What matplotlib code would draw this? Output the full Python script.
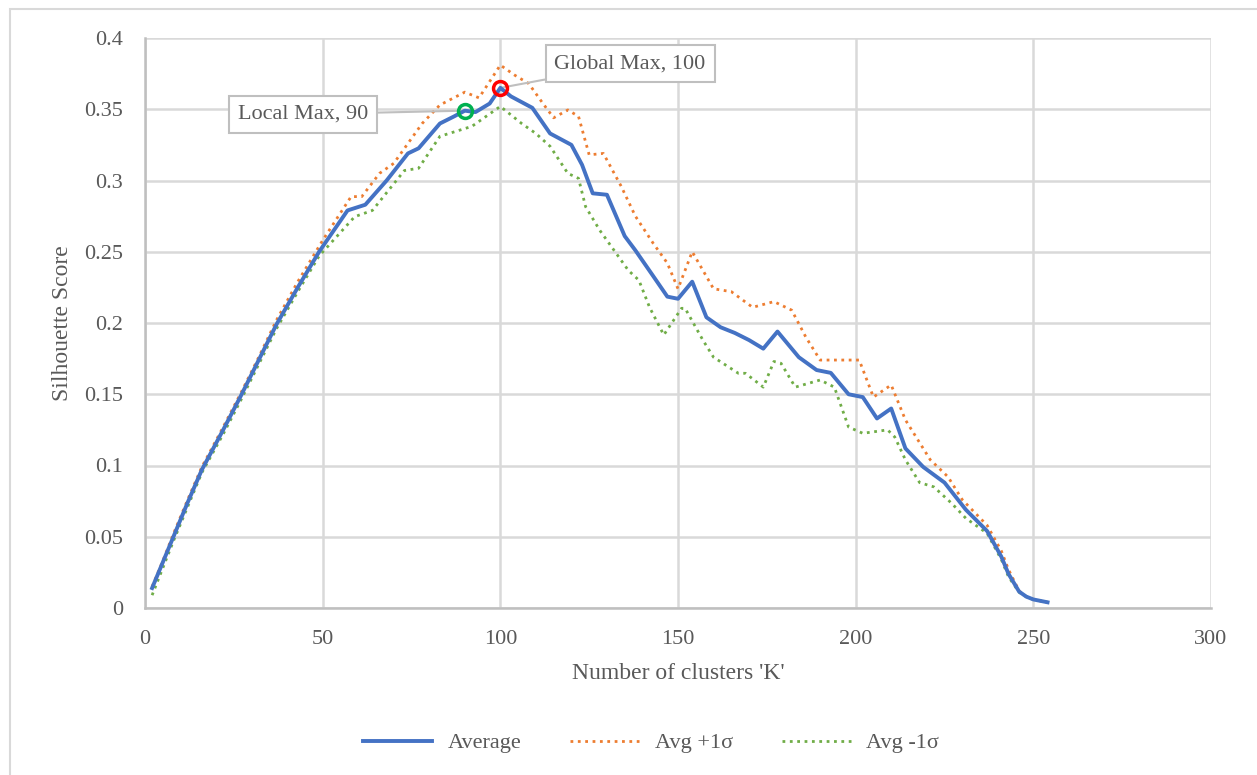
import matplotlib.pyplot as plt
from matplotlib.patches import Rectangle

plt.rcParams['font.family'] = ['Liberation Serif', 'DejaVu Serif']

# data
k_avg = [2, 5, 8, 12, 16, 22, 27, 32, 37, 43, 49, 57, 62, 68, 74, 77, 83, 87, 90, 93,
         97, 100, 103, 109, 114, 120, 123, 126, 130, 135, 138, 143, 147, 150, 154, 158,
         162, 166, 170, 174, 178, 184, 189, 193, 198, 202, 206, 210, 214, 219, 225,
         231, 237, 241, 243, 246, 248, 250, 254]
avg = [0.014, 0.032, 0.05, 0.074, 0.097, 0.125, 0.149, 0.174, 0.199, 0.225, 0.25,
       0.279, 0.283, 0.300, 0.319, 0.3226, 0.340, 0.345, 0.349, 0.348, 0.354, 0.365,
       0.359, 0.351, 0.333, 0.325, 0.311, 0.291, 0.290, 0.261, 0.251, 0.233, 0.2185,
       0.217, 0.229, 0.204, 0.197, 0.193, 0.188, 0.182, 0.194, 0.176, 0.167, 0.165,
       0.150, 0.148, 0.133, 0.140, 0.112, 0.099, 0.088, 0.069, 0.054, 0.036, 0.024,
       0.0115, 0.008, 0.006, 0.004]

k_hi = [2, 5, 8, 12, 16, 22, 27, 32, 37, 43, 50, 58, 61, 66, 70, 78, 83, 90, 94, 100,
        104, 108, 112, 115, 119, 122, 125, 129, 134, 138, 143, 147, 150, 154, 160, 165,
        171, 177, 182, 186, 190, 201, 205, 210, 214, 221, 226, 230, 237, 241, 243, 246,
        248, 250, 254]
hi = [0.015, 0.033, 0.052, 0.076, 0.099, 0.127, 0.151, 0.176, 0.202, 0.229, 0.258,
      0.2887, 0.2887, 0.305, 0.312, 0.340, 0.353, 0.362, 0.358, 0.381, 0.374, 0.368,
      0.354, 0.344, 0.3495, 0.345, 0.318, 0.319, 0.296, 0.275, 0.256, 0.242, 0.224,
      0.250, 0.224, 0.222, 0.211, 0.215, 0.209, 0.190, 0.174, 0.174, 0.148, 0.1565,
      0.132, 0.104, 0.092, 0.076, 0.058, 0.040, 0.027, 0.012, 0.008, 0.006, 0.004]

k_lo = [2, 5, 8, 12, 16, 22, 27, 32, 37, 43, 49, 59, 64, 73, 77, 83, 92, 100, 106, 110,
        114, 119, 122, 124, 128, 132, 136, 139, 142, 146, 151, 152, 157, 160, 167, 169,
        174, 177, 179, 183, 190, 194, 198, 202, 209, 211, 214, 218, 222, 227, 231, 237,
        241, 243, 246, 248, 250, 254]
lo = [0.009, 0.028, 0.047, 0.071, 0.095, 0.122, 0.146, 0.171, 0.196, 0.222, 0.247,
      0.2746, 0.279, 0.307, 0.3086, 0.331, 0.338, 0.352, 0.340, 0.333, 0.324, 0.305,
      0.3015, 0.2816, 0.265, 0.251, 0.237, 0.230, 0.211, 0.1916, 0.2103, 0.2103,
      0.188, 0.176, 0.1647, 0.1647, 0.155, 0.173, 0.1717, 0.155, 0.160, 0.155, 0.127,
      0.1226, 0.125, 0.120, 0.104, 0.088, 0.085, 0.0735, 0.063, 0.0524, 0.034, 0.022,
      0.011, 0.008, 0.006, 0.004]

local_max = (90, 0.349)
global_max = (100, 0.365)

grey = '#595959'
fig = plt.figure(figsize=(12.57, 7.75), dpi=100)
fig.patches.append(Rectangle((10 / 1257, -0.01), 1.1, 1 - 9 / 775 + 0.01,
                             transform=fig.transFigure, fill=False,
                             edgecolor='#d9d9d9', lw=1.5))
ax = fig.add_axes([145 / 1257, 1 - 608 / 775, (1211 - 145) / 1257, (608 - 38) / 775])

ax.plot(k_avg, avg, color='#4472c4', lw=2.8, label='Average', zorder=4,
        solid_joinstyle='round')
ax.plot(k_hi, hi, color='#ed7d31', lw=2, ls=':', label='Avg +1σ', zorder=3)
ax.plot(k_lo, lo, color='#70ad47', lw=2, ls=':', label='Avg -1σ', zorder=3)

ax.plot(*local_max, 'o', ms=10, mfc='none', mec='#00b050', mew=2.5, zorder=5)
ax.plot(*global_max, 'o', ms=10, mfc='none', mec='#ff0000', mew=2.5, zorder=5)

box = dict(boxstyle='square,pad=0.4', fc='white', ec='#bfbfbf', lw=1.5)
ax.annotate('Local Max, 90', xy=local_max, xytext=(44.5, 0.3465), ha='center',
            va='center', fontsize=16, color=grey, bbox=box,
            arrowprops=dict(arrowstyle='-', color='#bfbfbf', lw=1.5,
                            shrinkA=0, shrinkB=0))
ax.annotate('Global Max, 100', xy=global_max, xytext=(136.5, 0.382), ha='center',
            va='center', fontsize=16, color=grey, bbox=box,
            arrowprops=dict(arrowstyle='-', color='#bfbfbf', lw=1.5,
                            shrinkA=0, shrinkB=0))

ax.set_xlim(0, 300)
ax.set_ylim(0, 0.4)
ax.set_xticks([0, 50, 100, 150, 200, 250, 300])
ax.set_yticks([0, 0.05, 0.1, 0.15, 0.2, 0.25, 0.3, 0.35, 0.4])
ax.set_yticklabels(['0', '0.05', '0.1', '0.15', '0.2', '0.25', '0.3', '0.35', '0.4'])
ax.grid(True, color='#d9d9d9', lw=1.8)
ax.set_axisbelow(True)
ax.tick_params(length=0, labelsize=16, labelcolor=grey)
ax.tick_params(axis='x', pad=16)
ax.tick_params(axis='y', pad=16)
for s in ['top', 'right']:
    ax.spines[s].set_visible(False)
for s in ['left', 'bottom']:
    ax.spines[s].set_color('#bfbfbf')
    ax.spines[s].set_linewidth(1.8)

ax.set_xlabel("Number of clusters 'K'", fontsize=17, color=grey, labelpad=10)
ax.set_ylabel('Silhouette Score', fontsize=17, color=grey, labelpad=8)

fig.legend(loc='center', bbox_to_anchor=(0.518, 1 - 743 / 775), ncol=3, frameon=False,
           fontsize=16, labelcolor=grey, handlelength=3.1, handletextpad=0.7,
           columnspacing=2.2)

fig.savefig('out.png', dpi=100)
